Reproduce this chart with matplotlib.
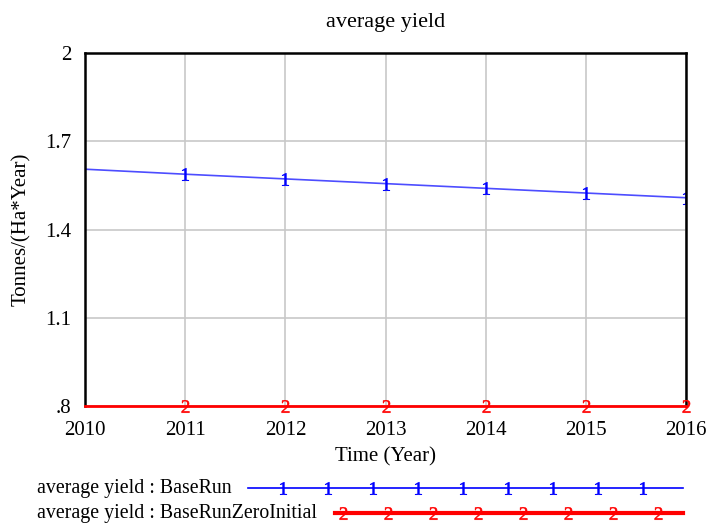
import matplotlib.pyplot as plt

plt.rcParams['font.family'] = ['Liberation Serif', 'DejaVu Serif']
plt.rcParams['mathtext.fontset'] = 'custom'
plt.rcParams['mathtext.rm'] = 'Liberation Serif'
plt.rcParams['mathtext.it'] = 'Liberation Serif'

years = [2010, 2011, 2012, 2013, 2014, 2015, 2016]
base_run = [1.605, 1.588, 1.572, 1.556, 1.540, 1.524, 1.508]
zero_initial = [0.8, 0.8, 0.8, 0.8, 0.8, 0.8, 0.8]
y_ticks = [0.8, 1.1, 1.4, 1.7, 2.0]
y_labels = ['.8', '1.1', '1.4', '1.7', '2']
series_names = ['average yield : BaseRun', 'average yield : BaseRunZeroInitial']

fig = plt.figure(figsize=(7.11, 5.27), dpi=100)
ax = fig.add_axes([0.1196, 0.2296, 0.8454, 0.6698])

ax.plot(years, base_run, color='#4d4dff', lw=1.2, marker='$1$', markersize=9,
        markevery=list(range(1, 7)), markeredgewidth=0.4, mec='blue', mfc='blue')
ax.plot(years, zero_initial, color='red', lw=2, marker='$2$', markersize=9,
        markevery=list(range(1, 7)), markeredgewidth=0.4, mec='red', mfc='red',
        clip_on=False, zorder=5)

ax.set_xlim(2010, 2016)
ax.set_ylim(0.8, 2.0)
ax.set_xticks(years)
ax.set_yticks(y_ticks)
ax.set_yticklabels(y_labels)
ax.grid(True, color='#c8c8c8', lw=1.2)
ax.tick_params(axis='x', length=0, labelsize=15, pad=11)
ax.tick_params(axis='y', length=0, labelsize=15, pad=10)
for s in ['left', 'top', 'right']:
    ax.spines[s].set_linewidth(1.8)
ax.spines['bottom'].set_visible(False)

ax.set_title('average yield', fontsize=16, pad=19)
ax.set_xlabel('Time (Year)', fontsize=15, labelpad=5)
ax.set_ylabel('Tonnes/(Ha*Year)', fontsize=15, labelpad=10)

# legend area below the chart
lg = fig.add_axes([0, 0, 1, 0.12])
lg.set_xlim(0, 711)
lg.set_ylim(63, 0)
lg.axis('off')
lg.text(37, 25, series_names[0], fontsize=14.3, va='center', ha='left')
lg.text(37, 50, series_names[1], fontsize=14.3, va='center', ha='left')
lg.plot([248, 683], [24, 24], color='blue', lw=1.2)
lg.plot([283 + 45 * i for i in range(9)], [24] * 9, ls='none', marker='$1$',
        markersize=9, color='blue', markeredgewidth=0.4)
lg.plot([335, 683], [49, 49], color='red', lw=3)
lg.plot([343 + 45 * i for i in range(8)], [49] * 8, ls='none', marker='$2$',
        markersize=9, color='red', markeredgewidth=0.4)

fig.savefig('out.png', dpi=100)
